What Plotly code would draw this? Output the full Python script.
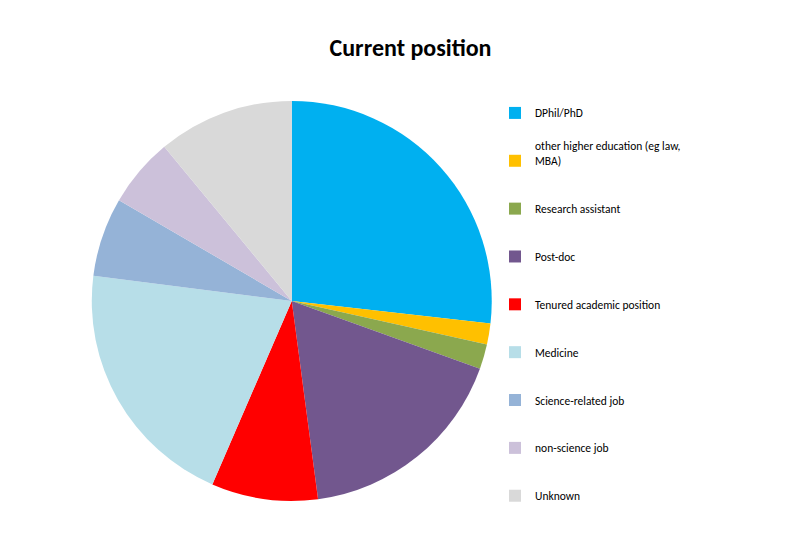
import plotly.graph_objects as go

labels = ["DPhil/PhD", "other higher education (eg law,<br>MBA)", "Research assistant",
          "Post-doc", "Tenured academic position", "Medicine", "Science-related job",
          "non-science job", "Unknown"]
values = [26.8, 1.7, 2.0, 17.4, 8.6, 20.5, 6.4, 5.6, 11.0]
colors = ["#00B0F0", "#FFC000", "#8BA84E", "#72578E", "#FF0000", "#B7DEE8",
          "#95B3D7", "#CCC1DA", "#D9D9D9"]


def main():
    fig = go.Figure(go.Pie(
        labels=["<br>" + l + "<br>" if "<br>" not in l else l + "<br>" for l in labels],
        values=values,
        marker=dict(colors=colors, line=dict(width=0)),
        sort=False,
        direction="clockwise",
        rotation=0,
        textinfo="none",
        hoverinfo="label+percent",
        domain=dict(x=[0.104, 0.601], y=[0.077, 0.826]),
    ))
    fig.update_layout(
        width=805, height=534,
        margin=dict(l=0, r=0, t=0, b=0),
        paper_bgcolor="white",
        font=dict(family="Calibri, Carlito, Liberation Sans, sans-serif", color="#000000"),
        title=dict(text="<b>Current position</b>", x=0.5, xanchor="center",
                   y=1 - 40 / 534, yanchor="middle", font=dict(size=24)),
        legend=dict(x=0.605, xanchor="left", y=1 - 76 / 534, yanchor="top",
                    font=dict(size=11.5), valign="middle"),
    )
    fig.write_html("out.html")


if __name__ == '__main__':
    main()
